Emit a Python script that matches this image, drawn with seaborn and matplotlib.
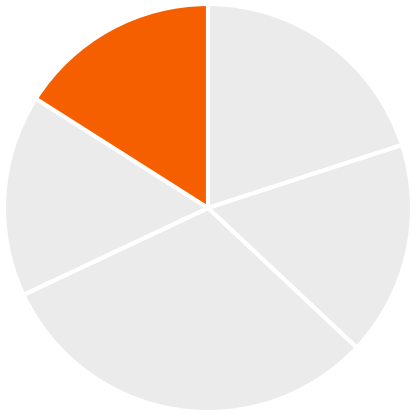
import matplotlib
matplotlib.use("Agg")
import matplotlib.pyplot as plt
import seaborn as sns

# slice shares, clockwise from 12 o'clock
categories = ["A", "B", "C", "D", "E"]
values = [20, 17, 31, 16, 16]
highlight = "E"

sns.set_theme(style="white")
gray = "#EBEBEB"
orange = "#F55F00"
colors = [orange if c == highlight else gray for c in categories]

fig = plt.figure(figsize=(4.16, 4.16), dpi=100)
ax = fig.add_axes([0, 0, 1, 1])
ax.pie(values, colors=colors, startangle=90, counterclock=False,
       wedgeprops=dict(edgecolor="white", linewidth=3))
lim = 208 / 204
ax.set_xlim(-lim, lim)
ax.set_ylim(-lim, lim)
ax.set_aspect("equal")
ax.axis("off")

plt.savefig("out.png", dpi=100)
plt.close()
